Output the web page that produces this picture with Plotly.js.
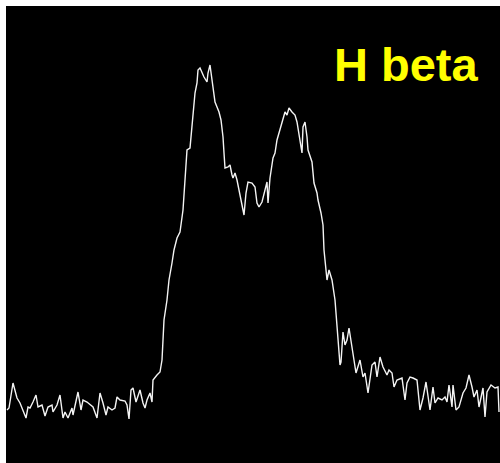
<!DOCTYPE html>
<html>
<head>
<meta charset="utf-8">
<script src="https://cdn.plot.ly/plotly-3.0.1.min.js"></script>
<style>
  html, body { margin: 0; padding: 0; background: #ffffff; }
  #plot { width: 500px; height: 463px; }
</style>
</head>
<body>
<div id="plot"></div>
<script>
// H beta emission line profile: detector channel vs. relative flux
const channel = [
  1, 3, 7, 9, 11, 14, 17, 20, 22, 24, 27, 30, 32, 36, 39, 42, 46, 47, 51, 54,
  57, 59, 62, 66, 67, 71, 72, 75, 77, 81, 84, 87, 91, 94, 97, 100, 102, 106, 109, 111,
  114, 119, 121, 123, 125, 127, 130, 132, 134, 137, 139, 141, 144, 146, 147, 151, 154, 156, 157, 158,
  161, 163, 166, 168, 171, 174, 177, 179, 181, 184, 186, 187, 189, 191, 192, 194, 196, 198, 201, 202,
  204, 206, 207, 209, 211, 213, 215, 217, 218, 219, 222, 224, 226, 227, 229, 231, 233, 236, 238, 240,
  242, 246, 249, 251, 253, 256, 258, 261, 262, 264, 267, 269, 271, 274, 277, 279, 281, 283, 286, 289,
  291, 294, 296, 297, 299, 301, 302, 306, 308, 311, 312, 315, 317, 318, 320, 321, 323, 326, 329, 331,
  333, 334, 335, 337, 339, 341, 343, 347, 350, 354, 357, 359, 362, 366, 369, 371, 374, 377, 381, 383,
  386, 388, 391, 396, 399, 401, 404, 407, 411, 414, 417, 420, 424, 427, 429, 432, 436, 439, 441, 443,
  446, 447, 450, 453, 457, 460, 463, 466, 468, 471, 473, 477, 479, 481, 485, 489, 492, 493
];

const flux = [
  0.53, 0.55, 0.80, 0.73, 0.65, 0.60, 0.53, 0.45, 0.56, 0.55, 0.61, 0.68, 0.56, 0.58, 0.47, 0.56, 0.58, 0.51, 0.58, 0.68,
  0.45, 0.51, 0.45, 0.55, 0.48, 0.68, 0.71, 0.53, 0.63, 0.61, 0.58, 0.56, 0.45, 0.70, 0.60, 0.48, 0.56, 0.53, 0.55, 0.66,
  0.63, 0.62, 0.58, 0.44, 0.73, 0.75, 0.61, 0.66, 0.73, 0.60, 0.55, 0.63, 0.70, 0.61, 0.83, 0.88, 0.91, 1.03, 1.20, 1.43,
  1.63, 1.83, 2.00, 2.13, 2.25, 2.31, 2.53, 2.80, 3.13, 3.15, 3.36, 3.51, 3.70, 3.80, 3.93, 3.95, 3.90, 3.86, 3.81, 3.90,
  3.98, 3.81, 3.73, 3.61, 3.56, 3.51, 3.43, 3.26, 3.10, 2.95, 2.96, 2.98, 2.88, 2.85, 2.90, 2.83, 2.73, 2.60, 2.48, 2.70,
  2.81, 2.80, 2.76, 2.60, 2.56, 2.61, 2.68, 2.81, 2.60, 2.85, 3.05, 3.10, 3.23, 3.33, 3.45, 3.51, 3.48, 3.55, 3.51, 3.48,
  3.41, 3.23, 3.10, 3.36, 3.41, 3.26, 3.13, 3.01, 2.80, 2.70, 2.63, 2.50, 2.38, 2.13, 1.95, 1.83, 1.93, 1.83, 1.63, 1.38,
  1.06, 0.98, 1.01, 1.31, 1.18, 1.23, 1.35, 1.10, 0.90, 1.03, 0.86, 0.90, 0.70, 0.98, 1.01, 0.86, 1.06, 0.96, 0.88, 0.93,
  0.90, 0.76, 0.83, 0.85, 0.63, 0.80, 0.86, 0.85, 0.83, 0.53, 0.65, 0.81, 0.53, 0.76, 0.60, 0.65, 0.63, 0.66, 0.61, 0.78,
  0.56, 0.78, 0.53, 0.56, 0.70, 0.75, 0.88, 0.76, 0.66, 0.73, 0.56, 0.75, 0.46, 0.71, 0.78, 0.75, 0.76, 0.51
];

const lineName = 'H beta';

const trace = {
  x: channel,
  y: flux,
  type: 'scatter',
  mode: 'lines',
  line: { color: '#f4f4f4', width: 1.4 },
  hoverinfo: 'skip'
};

const hiddenAxis = {
  showgrid: false,
  zeroline: false,
  showline: false,
  showticklabels: false,
  ticks: '',
  fixedrange: true
};

const layout = {
  width: 500,
  height: 463,
  margin: { l: 6, r: 0, t: 6, b: 0, pad: 0 },
  paper_bgcolor: '#ffffff',
  plot_bgcolor: '#000000',
  showlegend: false,
  xaxis: Object.assign({ range: [0, 494] }, hiddenAxis),
  yaxis: Object.assign({ range: [0, 4.57] }, hiddenAxis),
  annotations: [{
    text: '<b>' + lineName + '</b>',
    xref: 'paper', yref: 'paper',
    x: 0.660, y: 0.872,
    xanchor: 'left', yanchor: 'middle',
    showarrow: false,
    font: { family: 'Liberation Sans, Arial, sans-serif', size: 47, color: '#ffff00' }
  }]
};

Plotly.newPlot('plot', [trace], layout, { displayModeBar: false, staticPlot: true });
</script>
</body>
</html>
